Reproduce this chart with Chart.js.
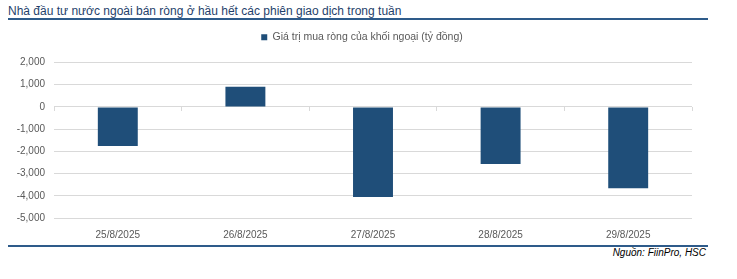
<!DOCTYPE html>
<html>
<head>
<meta charset="utf-8">
<script src="https://cdn.jsdelivr.net/npm/chart.js@4/dist/chart.umd.min.js"></script>
<style>
  html, body { margin:0; padding:0; background:#fff; }
  body { width:737px; height:279px; position:relative; overflow:hidden; font-family:"Liberation Sans", Arial, sans-serif; }
  #title { position:absolute; left:8px; top:4px; font-size:12px; color:#1f3f6b; white-space:nowrap; }
  #topRule { position:absolute; left:8px; top:18px; width:700px; height:0; border-top:2px solid #2e5b8a; }
  #botRule { position:absolute; left:8px; top:245px; width:700px; height:0; border-top:2px solid #2e5b8a; }
  #source { position:absolute; right:31px; top:247px; font-size:10px; font-style:italic; color:#000; white-space:nowrap; }
  #wrap { position:absolute; left:0; top:26px; width:737px; height:216px; }
</style>
</head>
<body>
<div id="title">Nhà đầu tư nước ngoài bán ròng ở hầu hết các phiên giao dịch trong tuần</div>
<div id="topRule"></div>
<div id="wrap"><canvas id="c"></canvas></div>
<div id="botRule"></div>
<div id="source">Nguồn: FiinPro, HSC</div>
<script>
const categories = ["25/8/2025", "26/8/2025", "27/8/2025", "28/8/2025", "29/8/2025"];
const seriesName = "Giá trị mua ròng của khối ngoại (tỷ đồng)";
const netBuyValues = [-1760, 910, -4060, -2570, -3660];
const yTicks = [2000, 1000, 0, -1000, -2000, -3000, -4000, -5000];

const barColor = "#1f4e79";
const labelColor = "#595959";
const gridColor = "#d9d9d9";
const tickFont = { family: "Liberation Sans", size: 10 };
const legendFont = { family: "Liberation Sans", size: 10.5 };

new Chart(document.getElementById("c"), {
  type: "bar",
  data: {
    labels: categories,
    datasets: [{
      label: seriesName,
      data: netBuyValues,
      backgroundColor: barColor,
      borderWidth: 0,
      xAxisID: "x",
      yAxisID: "y",
      categoryPercentage: 1,
      barPercentage: 0.313
    }]
  },
  options: {
    responsive: true,
    maintainAspectRatio: false,
    animation: false,
    layout: { padding: { left: 0, right: 13, top: 0, bottom: 0 } },
    plugins: {
      legend: {
        display: true,
        position: "top",
        labels: {
          boxWidth: 6,
          boxHeight: 6,
          padding: 6,
          color: labelColor,
          font: legendFont
        }
      },
      tooltip: { enabled: false }
    },
    scales: {
      x: {
        type: "category",
        position: { y: 0 },
        offset: true,
        ticks: { display: false },
        grid: {
          display: true,
          drawOnChartArea: false,
          drawTicks: true,
          tickLength: 4,
          tickColor: gridColor,
          offset: true
        },
        border: { display: false }
      },
      x2: {
        type: "category",
        labels: categories,
        position: "bottom",
        offset: true,
        grid: { display: false },
        border: { display: false },
        ticks: { padding: 3, color: labelColor, font: tickFont, maxRotation: 0 },
        afterFit: (s) => { s.height = 24; }
      },
      xTopSpacer: {
        type: "category",
        labels: categories,
        position: "top",
        grid: { display: false },
        border: { display: false },
        ticks: { display: false },
        afterFit: (s) => { s.height = 10; }
      },
      y: {
        type: "linear",
        position: "left",
        min: Math.min(...yTicks),
        max: Math.max(...yTicks),
        afterBuildTicks: (s) => { s.ticks = yTicks.map(v => ({ value: v })); },
        afterFit: (s) => { s.width = 54; },
        ticks: {
          padding: 9,
          color: labelColor,
          font: tickFont,
          callback: (v) => v.toLocaleString("en-US")
        },
        grid: { color: gridColor, lineWidth: 1, drawTicks: false },
        border: { display: false }
      },
      yRightSpacer: {
        type: "linear",
        position: "right",
        grid: { display: false },
        border: { display: false },
        ticks: { display: false },
        afterFit: (s) => { s.width = 32; }
      }
    }
  }
});
</script>
</body>
</html>
